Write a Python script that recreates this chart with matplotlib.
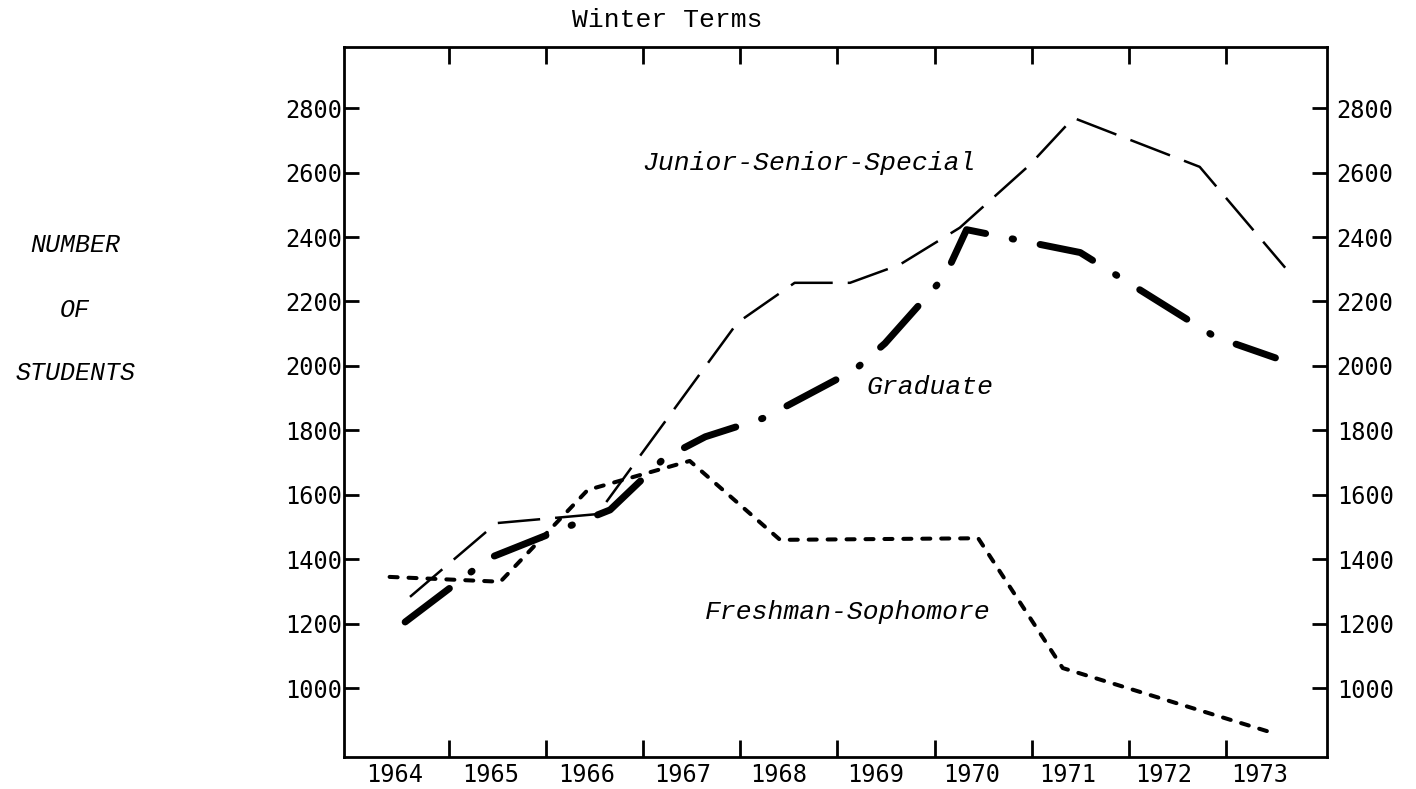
import matplotlib
matplotlib.use("Agg")
import matplotlib.pyplot as plt
from matplotlib.transforms import ScaledTranslation

# winter term enrolment, x = position along the year axis
fresh_x = [1964.39, 1965.53, 1966.43, 1967.48, 1968.41, 1970.45, 1971.32, 1973.49]
fresh_y = [1345, 1330, 1615, 1705, 1460, 1465, 1062, 860]

junior_x = [1964.60, 1965.49, 1966.53, 1967.97, 1968.56, 1969.13, 1969.64,
            1970.26, 1970.98, 1971.43, 1972.73, 1973.61]
junior_y = [1283, 1512, 1540, 2134, 2258, 2258, 2314, 2429, 2624, 2770, 2618, 2305]

grad_x = [1964.55, 1965.42, 1966.66, 1967.22, 1967.64, 1968.25, 1969.18, 1969.49,
          1970.11, 1970.33, 1971.50, 1972.89, 1973.51]
grad_y = [1205, 1404, 1553, 1714, 1780, 1839, 1988, 2070, 2280, 2423, 2352, 2090, 2025]

years = ['1964', '1965', '1966', '1967', '1968', '1969', '1970', '1971', '1972', '1973']
year_bounds = [1965, 1966, 1967, 1968, 1969, 1970, 1971, 1972, 1973]
yticks = [1000, 1200, 1400, 1600, 1800, 2000, 2200, 2400, 2600, 2800]

num_font = 'DejaVu Sans Mono'
txt_font = 'Liberation Mono'

fig = plt.figure(figsize=(14.16, 7.89), dpi=100)
ax = fig.add_axes([0.2429, 0.0406, 0.6942, 0.8998])

# lines
ax.plot(junior_x, junior_y, color='black', lw=1.8, dashes=(17, 6),
        dash_capstyle='butt')
ax.plot(grad_x, grad_y, color='black', lw=5, dashes=(8, 3.9, 0.2, 3.9),
        dash_capstyle='round')
ax.plot(fresh_x, fresh_y, color='black', lw=2.9, dashes=(2, 2.7),
        dash_capstyle='round')

ax.set_xlim(1963.92, 1974.04)
ax.set_ylim(786, 2990)

# year boundaries as tick marks, year names centred in between
ax.set_xticks(year_bounds)
ax.set_xticklabels([])
label_pos = [1964.44 + 0.99 * i for i in range(len(years))]
ax.set_xticks(label_pos, minor=True)
ax.set_xticklabels(years, minor=True, fontfamily=num_font, fontsize=17)
ax.tick_params(axis='x', which='major', direction='in', length=12, width=2,
               top=True, bottom=True)
ax.tick_params(axis='x', which='minor', length=0, pad=4)

ax.set_yticks(yticks)
ax.tick_params(axis='y', direction='in', length=11, width=2, left=True,
               right=True, labelright=True, pad=1, labelsize=17,
               labelfontfamily=num_font)
# right-hand numbers sit a little away from the frame
shift = ScaledTranslation(6 / 72, 0, fig.dpi_scale_trans)
for t in ax.yaxis.get_major_ticks():
    t.label2.set_transform(t.label2.get_transform() + shift)

for s in ax.spines.values():
    s.set_linewidth(2)

# curve names
ax.text(1966.99, 2631, 'Junior-Senior-Special', fontfamily=txt_font,
        style='italic', fontsize=19, va='center', ha='left')
ax.text(1969.30, 1935, 'Graduate', fontfamily=txt_font,
        style='italic', fontsize=19, va='center', ha='left')
ax.text(1967.64, 1236, 'Freshman-Sophomore', fontfamily=txt_font,
        style='italic', fontsize=19, va='center', ha='left')

fig.text(0.404, 0.975, 'Winter Terms', fontfamily=txt_font, fontsize=19,
         va='center', ha='left')

for word, yy in zip(['NUMBER', 'OF', 'STUDENTS'], [0.6895, 0.607, 0.527]):
    fig.text(0.053, yy, word, fontfamily=txt_font, style='italic',
             fontsize=18, va='center', ha='center')

fig.savefig('out.png', dpi=100)
